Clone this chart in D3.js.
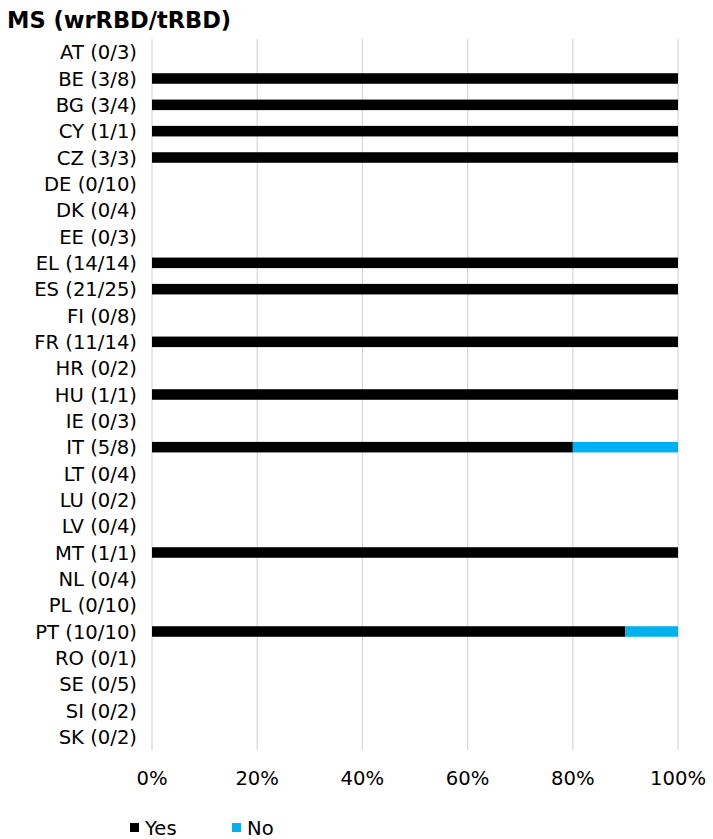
<!DOCTYPE html>
<html><head><meta charset="utf-8">
<script src="https://cdn.jsdelivr.net/npm/d3@7"></script>
<style>body{margin:0;background:#fff}svg{display:block}</style>
</head><body>
<script>
const categories = ["AT (0/3)","BE (3/8)","BG (3/4)","CY (1/1)","CZ (3/3)","DE (0/10)","DK (0/4)","EE (0/3)","EL (14/14)","ES (21/25)","FI (0/8)","FR (11/14)","HR (0/2)","HU (1/1)","IE (0/3)","IT (5/8)","LT (0/4)","LU (0/2)","LV (0/4)","MT (1/1)","NL (0/4)","PL (0/10)","PT (10/10)","RO (0/1)","SE (0/5)","SI (0/2)","SK (0/2)"];
const yesValues = [0,1,1,1,1,0,0,0,1,1,0,1,0,1,0,0.8,0,0,0,1,0,0,0.9,0,0,0,0];
const noValues  = [0,0,0,0,0,0,0,0,0,0,0,0,0,0,0,0.2,0,0,0,0,0,0,0.1,0,0,0,0];
const tickValues = [0,0.2,0.4,0.6,0.8,1];
const seriesNames = ["Yes","No"];
const colors = ["#000000","#00B0F0"];

const W=713,H=839;
const svg=d3.select("body").append("svg").attr("width",W).attr("height",H);
const font="'DejaVu Sans', Verdana, sans-serif";
const x=d3.scaleLinear().domain([0,1]).range([152,678]);
const y=d3.scaleBand().domain(categories).range([39,750]).paddingInner(0.6).paddingOuter(0.3);

svg.append("text").attr("x",7).attr("y",28).attr("font-family",font).attr("font-weight","bold").attr("font-size",22.5).attr("fill","#000").text("MS (wrRBD/tRBD)");

svg.append("g").selectAll("line").data(tickValues).join("line")
  .attr("x1",d=>x(d)).attr("x2",d=>x(d)).attr("y1",39).attr("y2",750)
  .attr("stroke","#d9d9d9").attr("stroke-width",1.3);

const stack=categories.map((c,i)=>({c,yes:yesValues[i],no:noValues[i]}));
const g=svg.append("g");
g.selectAll("rect.yes").data(stack.filter(d=>d.yes>0)).join("rect")
  .attr("x",x(0)).attr("y",d=>y(d.c)).attr("width",d=>x(d.yes)-x(0)).attr("height",y.bandwidth()).attr("fill",colors[0]);
g.selectAll("rect.no").data(stack.filter(d=>d.no>0)).join("rect")
  .attr("x",d=>x(d.yes)).attr("y",d=>y(d.c)).attr("width",d=>x(d.yes+d.no)-x(d.yes)).attr("height",y.bandwidth()).attr("fill",colors[1]);

svg.append("g").selectAll("text").data(categories).join("text")
  .attr("x",137).attr("y",d=>y(d)+y.bandwidth()/2).attr("dy","0.36em")
  .attr("text-anchor","end").attr("font-family",font).attr("font-size",19.6).attr("fill","#000").text(d=>d);

svg.append("g").selectAll("text").data(tickValues).join("text")
  .attr("x",d=>x(d)).attr("y",785).attr("text-anchor","middle").attr("font-family",font).attr("font-size",19.6).attr("fill","#000")
  .text(d=>d3.format(".0%")(d));

const lg=svg.append("g");
const lx=[130,232];
seriesNames.forEach((s,i)=>{
  lg.append("rect").attr("x",lx[i]).attr("y",823).attr("width",9).attr("height",9).attr("fill",colors[i]);
  lg.append("text").attr("x",lx[i]+15).attr("y",835).attr("font-family",font).attr("font-size",19.6).attr("fill","#000").text(s);
});
</script>
</body></html>
